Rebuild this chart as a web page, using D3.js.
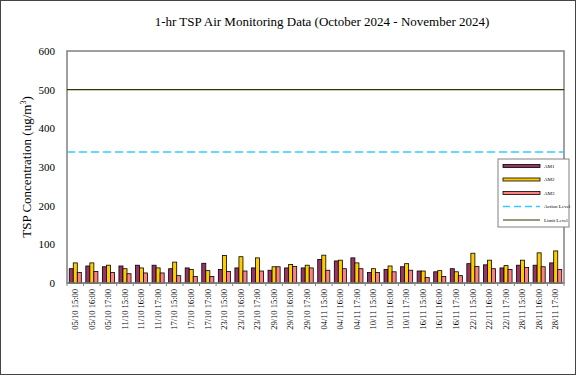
<!DOCTYPE html>
<html>
<head>
<meta charset="utf-8">
<script src="https://cdn.jsdelivr.net/npm/d3@7"></script>
<style>
  body { margin: 0; background: #fff; }
  svg { display: block; }
</style>
</head>
<body>
<script>
const dates = ["05/10", "11/10", "17/10", "23/10", "29/10", "04/11", "10/11", "16/11", "22/11", "28/11"];
const hours = ["15:00", "16:00", "17:00"];
const labels = dates.flatMap(d => hours.map(h => d + " " + h));

const am1 = [37, 44, 42, 44, 46, 46, 37, 39, 51, 35, 39, 39, 33, 39, 39, 61, 57, 65, 27, 35, 42, 31, 29, 37, 50, 47, 39, 46, 46, 52];
const am2 = [52, 52, 46, 37, 39, 39, 54, 35, 32, 71, 68, 65, 42, 48, 46, 72, 59, 52, 37, 44, 50, 31, 32, 29, 77, 59, 45, 59, 78, 83];
const am3 = [27, 30, 27, 24, 26, 26, 19, 17, 17, 30, 31, 31, 42, 43, 39, 33, 37, 37, 27, 29, 33, 14, 17, 19, 43, 37, 35, 40, 42, 35];
const actionLevel = 339;
const limitLevel = 500;
const yTicks = [0, 100, 200, 300, 400, 500, 600];

const series = [
  { name: "AM1", values: am1, color: "#993366" },
  { name: "AM2", values: am2, color: "#FFCC00" },
  { name: "AM3", values: am3, color: "#FF8080" }
];

const width = 576, height = 375;
const margin = { left: 67, right: 12, top: 51, bottom: 92 };
const font = "'Liberation Serif', 'Times New Roman', serif";

const svg = d3.select("body").append("svg")
  .attr("width", width)
  .attr("height", height)
  .style("font-family", font);

// outer frame
svg.append("rect")
  .attr("x", 0.5).attr("y", 0.5)
  .attr("width", width - 1).attr("height", height - 1)
  .attr("fill", "#fff").attr("stroke", "#444");

const x0 = d3.scaleBand()
  .domain(labels)
  .range([margin.left, width - margin.right])
  .paddingInner(0.27)
  .paddingOuter(0.135);

const x1 = d3.scaleBand()
  .domain(series.map(s => s.name))
  .range([0, x0.bandwidth()]);

const y = d3.scaleLinear()
  .domain([0, 600])
  .range([height - margin.bottom, margin.top]);

// plot area border
svg.append("rect")
  .attr("x", margin.left)
  .attr("y", margin.top)
  .attr("width", width - margin.left - margin.right)
  .attr("height", height - margin.top - margin.bottom)
  .attr("fill", "none")
  .attr("stroke", "#808080")
  .attr("stroke-width", 1.5);

// title
svg.append("text")
  .attr("x", 322).attr("y", 26)
  .attr("text-anchor", "middle")
  .style("font-size", "13px")
  .text("1-hr TSP Air Monitoring Data (October 2024 - November 2024)");

// y axis
const yAxis = d3.axisLeft(y).tickValues(yTicks).tickSize(0).tickPadding(12);
svg.append("g")
  .attr("transform", "translate(" + margin.left + ",0)")
  .call(yAxis)
  .call(g => g.select(".domain").remove())
  .selectAll("text")
  .style("font-family", font)
  .style("font-size", "11px")
  .attr("fill", "#000");

// y title
const yt = svg.append("text")
  .attr("transform", "translate(31," + ((margin.top + height - margin.bottom) / 2) + ") rotate(-90)")
  .attr("text-anchor", "middle")
  .style("font-size", "13px");
yt.append("tspan").text("TSP Concentration (ug/m");
yt.append("tspan").attr("dy", -5).style("font-size", "8px").text("3");
yt.append("tspan").attr("dy", 5).text(")");

// limit & action lines
svg.append("line")
  .attr("x1", margin.left).attr("x2", width - margin.right)
  .attr("y1", y(limitLevel)).attr("y2", y(limitLevel))
  .attr("stroke", "#333300").attr("stroke-width", 1.2);
svg.append("line")
  .attr("x1", margin.left).attr("x2", width - margin.right)
  .attr("y1", y(actionLevel)).attr("y2", y(actionLevel))
  .attr("stroke", "#33CCFF").attr("stroke-width", 1.5)
  .attr("stroke-dasharray", "8,4");

// bars
const groups = svg.append("g").selectAll("g")
  .data(labels)
  .join("g")
  .attr("transform", d => "translate(" + x0(d) + ",0)");

groups.selectAll("rect")
  .data((d, i) => series.map(s => ({ name: s.name, value: s.values[i], color: s.color })))
  .join("rect")
  .attr("x", d => x1(d.name))
  .attr("y", d => y(d.value))
  .attr("width", x1.bandwidth())
  .attr("height", d => y(0) - y(d.value))
  .attr("fill", d => d.color)
  .attr("stroke", "#000")
  .attr("stroke-width", 0.8);

// x axis
const xAxis = d3.axisBottom(x0).tickSize(0).tickPadding(6);
const xg = svg.append("g")
  .attr("transform", "translate(0," + (height - margin.bottom) + ")")
  .call(xAxis);
xg.select(".domain").remove();
xg.selectAll("text")
  .style("font-family", font)
  .style("font-size", "8.5px")
  .attr("fill", "#000")
  .attr("text-anchor", "end")
  .attr("transform", "rotate(-90)")
  .attr("x", -6)
  .attr("y", 0)
  .attr("dy", "0.32em");

// small ticks between categories
const step = x0.step();
svg.append("g").selectAll("line")
  .data(d3.range(labels.length + 1))
  .join("line")
  .attr("x1", i => margin.left + i * step)
  .attr("x2", i => margin.left + i * step)
  .attr("y1", y(0)).attr("y2", y(0) + 3)
  .attr("stroke", "#808080");

// baseline
svg.append("line")
  .attr("x1", margin.left).attr("x2", width - margin.right)
  .attr("y1", y(0)).attr("y2", y(0))
  .attr("stroke", "#808080").attr("stroke-width", 1.5);

// legend
const lg = svg.append("g").attr("transform", "translate(498,159)");
lg.append("rect")
  .attr("width", 71).attr("height", 68)
  .attr("fill", "#fff").attr("stroke", "#808080");

const legendItems = [
  ...series.map(s => ({ name: s.name, type: "bar", color: s.color })),
  { name: "Action Level", type: "dash", color: "#33CCFF" },
  { name: "Limit Level", type: "line", color: "#333300" }
];

const li = lg.selectAll("g.item")
  .data(legendItems)
  .join("g")
  .attr("class", "item")
  .attr("transform", (d, i) => "translate(5," + (7 + i * 13.5) + ")");

li.filter(d => d.type === "bar").append("rect")
  .attr("x", 0).attr("y", -1.5)
  .attr("width", 37).attr("height", 3)
  .attr("fill", d => d.color)
  .attr("stroke", "#000").attr("stroke-width", 0.8);

li.filter(d => d.type !== "bar").append("line")
  .attr("x1", 0).attr("x2", 37)
  .attr("y1", 0).attr("y2", 0)
  .attr("stroke", d => d.color)
  .attr("stroke-width", d => d.type === "dash" ? 1.5 : 1)
  .attr("stroke-dasharray", d => d.type === "dash" ? "7,4" : null);

li.append("text")
  .attr("x", 41).attr("dy", "0.32em")
  .style("font-size", "5px")
  .text(d => d.name);
</script>
</body>
</html>
